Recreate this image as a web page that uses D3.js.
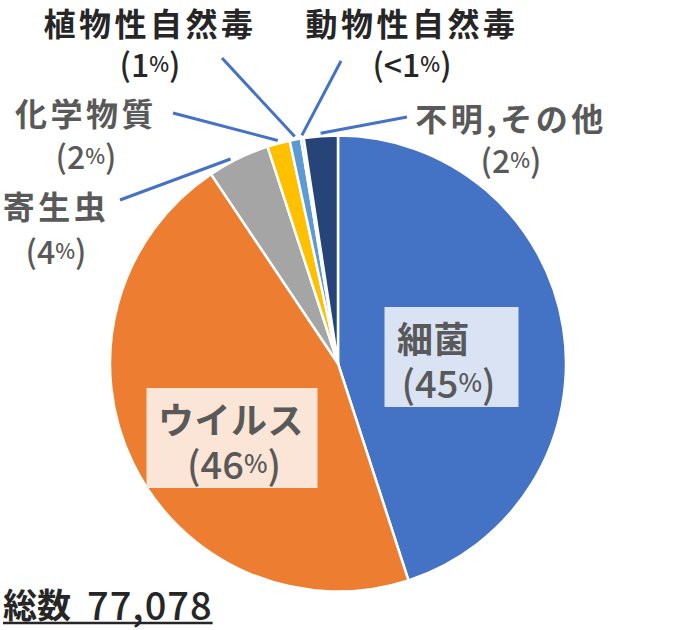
<!DOCTYPE html>
<html><head><meta charset="utf-8">
<script src="https://cdn.jsdelivr.net/npm/d3@7"></script>
<style>
html,body{margin:0;padding:0;background:#fff;}
svg{display:block;}
</style></head>
<body>
<svg id="chart" width="674" height="630"></svg>
<script>
// Data (percent shares; total 77,078)
const categories = ["細菌", "ウイルス", "寄生虫", "化学物質", "植物性自然毒", "動物性自然毒", "不明,その他"];
const shares = [45.0, 45.6, 4.4, 1.6, 0.8, 0.2, 2.4];
const pctLabels = ["45", "46", "4", "2", "1", "<1", "2"];
const colors = ["#4472C4", "#ED7D31", "#A5A5A5", "#FFC000", "#5B9BD5", "#70AD47", "#264478"];
const totalName = "総数";
const totalValue = "77,078";

// Layout
const cx = 338, cy = 363.5, R = 228;
const font = "'Noto Sans CJK JP','Noto Sans',sans-serif";
const labelLayout = [
  {inside: true, x: 451.5, y: 357, w: 134, h: 100, bg: "#DAE3F3", ny: 337, py: 381, ndx: -18, pdx: -3},
  {inside: true, x: 232, y: 438, w: 171, h: 100, bg: "#FBE5D6", ny: 418, py: 462, ndx: -1, pdx: 2},
  {x: 56, y: 205, py: 250, color: "#595959", lx: 120, ly: 200, aoff: -1.8},
  {x: 86, y: 112, py: 155, color: "#595959", lx: 173, ly: 113, aoff: 0},
  {x: 150, y: 22, py: 63, color: "#262626", lx: 222, ly: 58, aoff: 0},
  {x: 412, y: 22, py: 63, color: "#262626", lx: 341, ly: 61, aoff: 0},
  {x: 511, y: 117, py: 159, color: "#595959", lx: 407, ly: 117, aoff: 0}
];

const svg = d3.select("#chart");
const g = svg.append("g").attr("transform", `translate(${cx},${cy})`);

const pie = d3.pie().sort(null).startAngle(0).endAngle(2 * Math.PI).value(d => d);
const arcs = pie(shares);
const arc = d3.arc().innerRadius(0).outerRadius(R);

g.selectAll("path.slice").data(arcs).enter().append("path")
  .attr("class", "slice")
  .attr("d", arc)
  .attr("fill", (d, i) => colors[i])
  .attr("stroke", "#fff")
  .attr("stroke-width", 2.5)
  .attr("stroke-linejoin", "round");

function pctText(sel, i, size) {
  sel.append("tspan").text("(" + pctLabels[i]);
  sel.append("tspan").attr("font-size", size * 0.66).text("%");
  sel.append("tspan").text(")");
}

arcs.forEach((a, i) => {
  const L = labelLayout[i];
  if (L.inside) {
    svg.append("rect")
      .attr("x", L.x - L.w / 2).attr("y", L.y - L.h / 2)
      .attr("width", L.w).attr("height", L.h)
      .attr("fill", L.bg);
    svg.append("text")
      .attr("x", L.x + L.ndx).attr("y", L.ny)
      .attr("text-anchor", "middle").attr("dominant-baseline", "central")
      .attr("font-family", font).attr("font-weight", 700)
      .attr("font-size", 36).attr("letter-spacing", 0.5)
      .attr("fill", "#595959").text(categories[i]);
    const t = svg.append("text")
      .attr("x", L.x + L.pdx).attr("y", L.py)
      .attr("text-anchor", "middle").attr("dominant-baseline", "central")
      .attr("font-family", font).attr("font-weight", 500)
      .attr("font-size", 38).attr("fill", "#595959");
    pctText(t, i, 38);
  } else {
    const ang = (a.startAngle + a.endAngle) / 2 + L.aoff * Math.PI / 180;
    const ex = cx + (R + 3) * Math.sin(ang), ey = cy - (R + 3) * Math.cos(ang);
    svg.append("line")
      .attr("x1", L.lx).attr("y1", L.ly).attr("x2", ex).attr("y2", ey)
      .attr("stroke", "#4472C4").attr("stroke-width", 3);
    svg.append("text")
      .attr("x", L.x).attr("y", L.y)
      .attr("text-anchor", "middle").attr("dominant-baseline", "central")
      .attr("font-family", font).attr("font-weight", 700)
      .attr("font-size", 32).attr("letter-spacing", 3.5)
      .attr("fill", L.color).text(categories[i]);
    const t = svg.append("text")
      .attr("x", L.x).attr("y", L.py)
      .attr("text-anchor", "middle").attr("dominant-baseline", "central")
      .attr("font-family", font).attr("font-weight", 500)
      .attr("font-size", 32).attr("fill", L.color);
    pctText(t, i, 32);
  }
});

// total
const tot = svg.append("text")
  .attr("x", 3).attr("y", 603)
  .attr("dominant-baseline", "central")
  .attr("font-family", font).attr("font-weight", 700)
  .attr("font-size", 34).attr("fill", "#262626");
tot.append("tspan").text(totalName);
tot.append("tspan").attr("dx", 16).attr("font-size", 38).attr("letter-spacing", 1).attr("font-weight", 500).text(totalValue);
const bb = tot.node().getBBox();
svg.append("line")
  .attr("x1", bb.x).attr("x2", bb.x + bb.width)
  .attr("y1", 623).attr("y2", 623)
  .attr("stroke", "#262626").attr("stroke-width", 2.5);
</script>
</body></html>
